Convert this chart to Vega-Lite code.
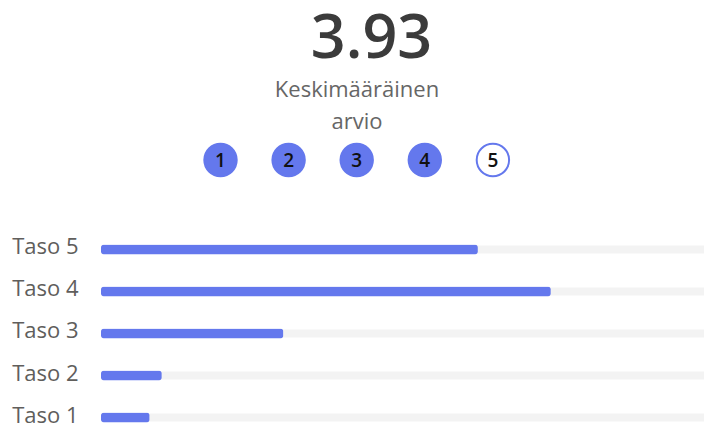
{
  "$schema": "https://vega.github.io/schema/vega-lite/v6.json",
  "width": 603,
  "height": 196.5,
  "autosize": {"type": "none"},
  "padding": {"left": 101, "top": 228.5, "right": 0, "bottom": 0},
  "background": "white",
  "config": {"view": {"stroke": null}},
  "datasets": {
    "tasot": [
      {"taso": "Taso 5", "taso_nro": 5, "maara": 31},
      {"taso": "Taso 4", "taso_nro": 4, "maara": 37},
      {"taso": "Taso 3", "taso_nro": 3, "maara": 15},
      {"taso": "Taso 2", "taso_nro": 2, "maara": 5},
      {"taso": "Taso 1", "taso_nro": 1, "maara": 4}
    ],
    "arviot": [
      {"arvio": 1}, {"arvio": 2}, {"arvio": 3}, {"arvio": 4}, {"arvio": 5}
    ],
    "yhteenveto": [
      {"keskiarvo": 3.93, "otsikko": "Keskimääräinen arvio"}
    ]
  },
  "layer": [
    {
      "data": {"name": "tasot"},
      "transform": [{"joinaggregate": [{"op": "sum", "field": "maara", "as": "yhteensa"}]}],
      "encoding": {
        "y": {
          "field": "taso",
          "type": "nominal",
          "sort": ["Taso 5", "Taso 4", "Taso 3", "Taso 2", "Taso 1"],
          "scale": {"paddingInner": 0.7619, "paddingOuter": 0.22, "align": 0.865},
          "axis": {
            "title": null,
            "domain": false,
            "ticks": false,
            "tickSize": 0,
            "labelPadding": 23,
            "labelFont": "Open Sans",
            "labelFontSize": 22,
            "labelColor": "#605e5c",
            "labelAlign": "right",
            "labelBaseline": "middle",
            "labelOffset": -2
          }
        }
      },
      "layer": [
        {
          "mark": {"type": "bar", "color": "#f3f3f3", "height": {"band": 0.8}, "clip": true},
          "encoding": {
            "x": {"field": "yhteensa", "type": "quantitative", "scale": {"domain": [0, 49.6], "zero": true, "nice": false}, "axis": null}
          }
        },
        {
          "mark": {"type": "bar", "color": "#6478ed", "height": {"band": 1}, "cornerRadius": 3},
          "encoding": {
            "x": {"field": "maara", "type": "quantitative", "scale": {"domain": [0, 49.6], "zero": true, "nice": false}, "axis": null}
          }
        }
      ]
    },
    {
      "data": {"name": "arviot"},
      "encoding": {
        "x": {
          "field": "arvio",
          "type": "quantitative",
          "scale": {"domain": [-0.755, 8.1], "zero": false, "nice": false},
          "axis": null
        }
      },
      "layer": [
        {
          "mark": {"type": "point", "shape": "circle", "size": 1050, "strokeWidth": 2, "stroke": "#6478ed", "opacity": 1, "yOffset": -166.75},
          "encoding": {
            "fill": {"condition": {"test": "datum.arvio <= 4", "value": "#6478ed"}, "value": "white"}
          }
        },
        {
          "mark": {"type": "text", "font": "Open Sans", "fontSize": 19, "fontWeight": 600, "color": "#111111", "baseline": "alphabetic", "dy": -159.75},
          "encoding": {"text": {"field": "arvio", "type": "quantitative", "format": "d"}}
        }
      ]
    },
    {
      "data": {"name": "yhteenveto"},
      "layer": [
        {
          "mark": {"type": "text", "font": "Open Sans", "fontSize": 61, "fontWeight": 600, "color": "#3b3b3b", "align": "center", "baseline": "alphabetic", "dx": -31, "dy": -268.75},
          "encoding": {"text": {"field": "keskiarvo", "type": "quantitative", "format": ".2f"}}
        },
        {
          "mark": {"type": "text", "font": "Open Sans", "fontSize": 22, "color": "#666666", "align": "center", "baseline": "alphabetic", "lineBreak": " ", "lineHeight": 31.5, "dx": -45.5, "dy": -229.45},
          "encoding": {"text": {"field": "otsikko", "type": "nominal"}}
        }
      ]
    }
  ],
  "resolve": {"scale": {"x": "independent"}}
}
